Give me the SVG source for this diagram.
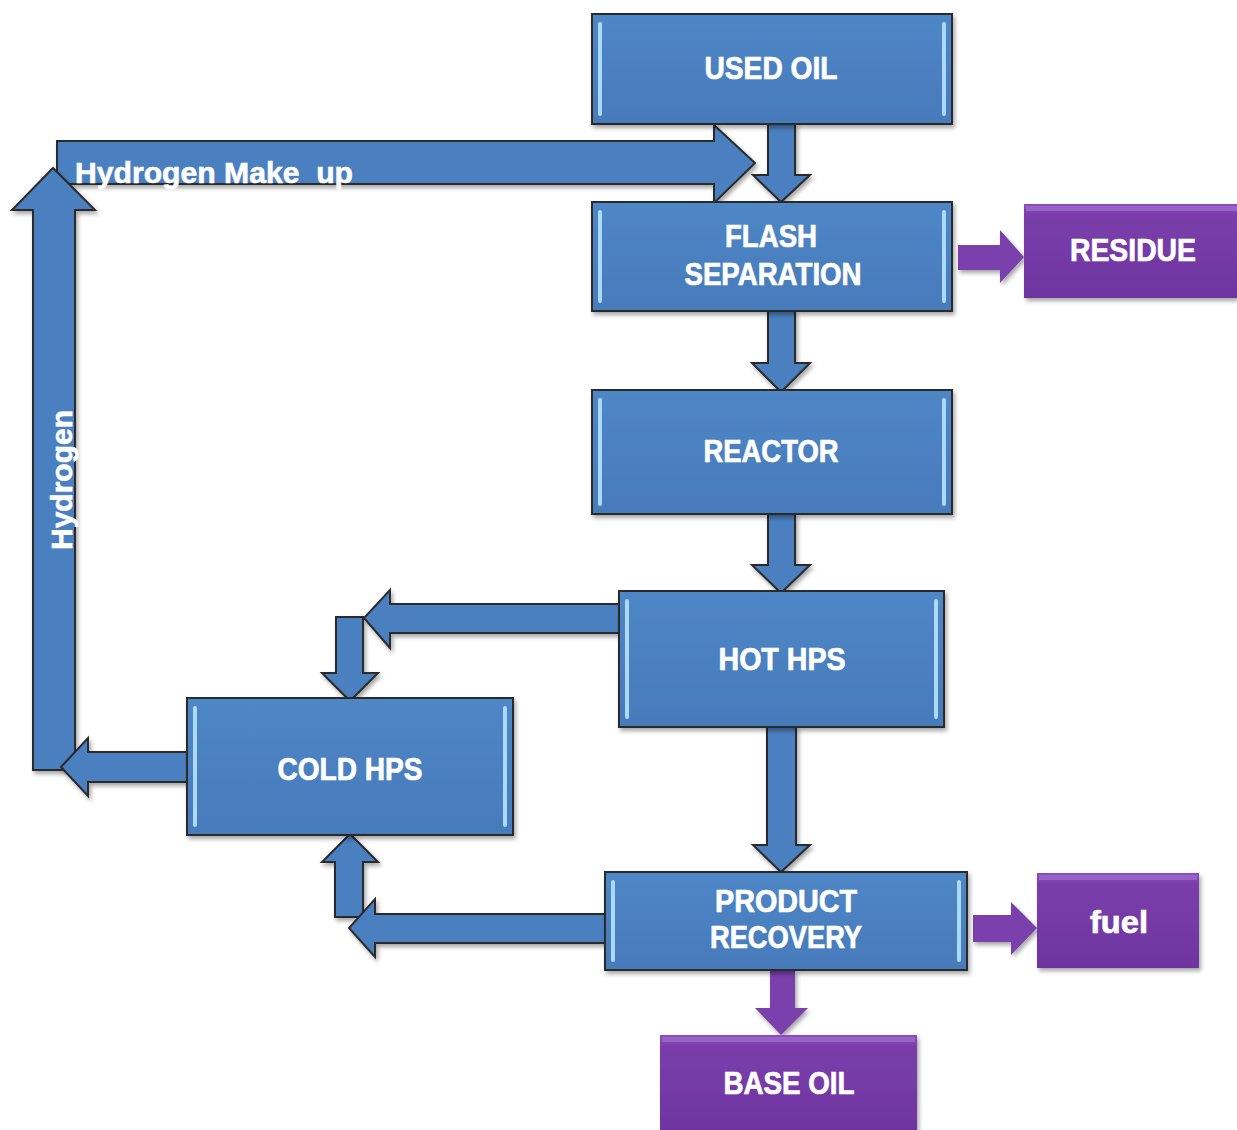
<svg xmlns="http://www.w3.org/2000/svg" width="1237" height="1130" viewBox="0 0 1237 1130">
<defs>
  <linearGradient id="gBlue" x1="0" y1="0" x2="0" y2="1">
    <stop offset="0" stop-color="#4f86c6"/>
    <stop offset="1" stop-color="#477bbb"/>
  </linearGradient>
  <linearGradient id="gPurple" x1="0" y1="0" x2="0" y2="1">
    <stop offset="0" stop-color="#8a4fba"/>
    <stop offset="0.12" stop-color="#7a3eab"/>
    <stop offset="1" stop-color="#6e35a0"/>
  </linearGradient>
  <filter id="sh" x="-10%" y="-10%" width="125%" height="130%">
    <feDropShadow dx="2" dy="3" stdDeviation="2" flood-color="#000" flood-opacity="0.35"/>
  </filter>
</defs>
<style>
  .box{fill:url(#gBlue);stroke:#2a2a2a;stroke-width:2;filter:url(#sh)}
  .pbox{fill:url(#gPurple);filter:url(#sh)}
  .hl{fill:#aadaf8}
  .phl{fill:#9c6acb;opacity:0.8}
  .arr{fill:#4b80c0;stroke:#2a2a2a;stroke-width:2;stroke-linejoin:miter;filter:url(#sh)}
  .parr{fill:#7a3fab;filter:url(#sh)}
  .lbl{font-family:"Liberation Sans",Arial,sans-serif;font-weight:bold;font-size:31px;fill:#ffffff;stroke:#ffffff;stroke-width:0.7;text-anchor:middle}
  .albl{font-family:"Liberation Sans",Arial,sans-serif;font-weight:bold;font-size:29px;fill:#ffffff;stroke:#ffffff;stroke-width:0.6}
</style>

<g id="connectors">
  <polygon class="arr" points="57,141 714,141 714,125 755,163 714,203 714,184 57,184"/>
  <polygon class="arr" points="768,124 795,124 795,175 810,175 781,202 753,175 768,175"/>
  <polygon class="arr" points="33,770 33,210 12,210 53,168 95,210 75,210 75,770"/>
  <polygon class="arr" points="190,752 88,752 88,738 61,767 88,796 88,782 190,782"/>
  <polygon class="arr" points="336,617 363,617 363,673 378,673 350,701 322,673 336,673"/>
  <polygon class="arr" points="622,604 390,604 390,590 364,618 390,648 390,633 622,633"/>
  <polygon class="arr" points="768,311 795,311 795,363 810,363 781,392 752,363 768,363"/>
  <polygon class="arr" points="768,514 795,514 795,565 810,565 781,593 752,565 768,565"/>
  <polygon class="arr" points="767,727 796,727 796,845 810,845 781,872 753,845 767,845"/>
  <polygon class="arr" points="335,917 335,862 322,862 350,834 378,862 363,862 363,917"/>
  <polygon class="arr" points="610,914 375,914 375,899 349,928 375,957 375,943 610,943"/>
  <polygon class="parr" points="958,245 1000,245 1000,230 1024,257 1000,283 1000,270 958,270"/>
  <polygon class="parr" points="973,915 1011,915 1011,902 1037,928 1011,955 1011,942 973,942"/>
  <polygon class="parr" points="770,970 795,970 795,1008 808,1008 781,1035 755,1008 770,1008"/>
  <text class="albl" x="75" y="183" textLength="278" lengthAdjust="spacingAndGlyphs" xml:space="preserve">Hydrogen Make  up</text>
  <text class="albl" transform="translate(72,480) rotate(-90)" text-anchor="middle" textLength="140" lengthAdjust="spacingAndGlyphs">Hydrogen</text>
</g>

<g id="used-oil">
  <rect class="box" x="592" y="14" width="360" height="110"/>
  <rect class="hl" x="598" y="22" width="4" height="94" rx="2"/>
  <rect class="hl" x="942" y="22" width="4" height="94" rx="2"/>
  <text class="lbl" x="771" y="79" textLength="133" lengthAdjust="spacingAndGlyphs">USED OIL</text>
</g>

<g id="flash-separation">
  <rect class="box" x="592" y="202" width="360" height="109"/>
  <rect class="hl" x="598" y="210" width="4" height="93" rx="2"/>
  <rect class="hl" x="942" y="210" width="4" height="93" rx="2"/>
  <text class="lbl" x="771" y="247" textLength="92" lengthAdjust="spacingAndGlyphs">FLASH</text>
  <text class="lbl" x="773" y="285" textLength="177" lengthAdjust="spacingAndGlyphs">SEPARATION</text>
</g>

<g id="residue">
  <rect class="pbox" x="1024" y="204" width="213" height="94"/>
  <rect class="phl" x="1026" y="206" width="211" height="5"/>
  <text class="lbl" x="1133" y="261" textLength="126" lengthAdjust="spacingAndGlyphs">RESIDUE</text>
</g>

<g id="reactor">
  <rect class="box" x="592" y="390" width="360" height="124"/>
  <rect class="hl" x="598" y="398" width="4" height="108" rx="2"/>
  <rect class="hl" x="942" y="398" width="4" height="108" rx="2"/>
  <text class="lbl" x="771" y="462" textLength="135" lengthAdjust="spacingAndGlyphs">REACTOR</text>
</g>

<g id="hot-hps">
  <rect class="box" x="619" y="591" width="325" height="136"/>
  <rect class="hl" x="625" y="599" width="4" height="120" rx="2"/>
  <rect class="hl" x="934" y="599" width="4" height="120" rx="2"/>
  <text class="lbl" x="782" y="670" textLength="127" lengthAdjust="spacingAndGlyphs">HOT HPS</text>
</g>

<g id="cold-hps">
  <rect class="box" x="187" y="698" width="326" height="137"/>
  <rect class="hl" x="193" y="706" width="4" height="121" rx="2"/>
  <rect class="hl" x="503" y="706" width="4" height="121" rx="2"/>
  <text class="lbl" x="350" y="780" textLength="145" lengthAdjust="spacingAndGlyphs">COLD HPS</text>
</g>

<g id="product-recovery">
  <rect class="box" x="605" y="872" width="362" height="98"/>
  <rect class="hl" x="611" y="880" width="4" height="82" rx="2"/>
  <rect class="hl" x="957" y="880" width="4" height="82" rx="2"/>
  <text class="lbl" x="786" y="912" textLength="142" lengthAdjust="spacingAndGlyphs">PRODUCT</text>
  <text class="lbl" x="786" y="948" textLength="152" lengthAdjust="spacingAndGlyphs">RECOVERY</text>
</g>

<g id="fuel">
  <rect class="pbox" x="1037" y="873" width="162" height="95"/>
  <rect class="phl" x="1039" y="875" width="158" height="5"/>
  <text class="lbl" x="1119" y="933" textLength="58" lengthAdjust="spacingAndGlyphs">fuel</text>
</g>

<g id="base-oil">
  <rect class="pbox" x="660" y="1035" width="257" height="97"/>
  <rect class="phl" x="662" y="1037" width="253" height="5"/>
  <text class="lbl" x="789" y="1094" textLength="131" lengthAdjust="spacingAndGlyphs">BASE OIL</text>
</g>
</svg>
